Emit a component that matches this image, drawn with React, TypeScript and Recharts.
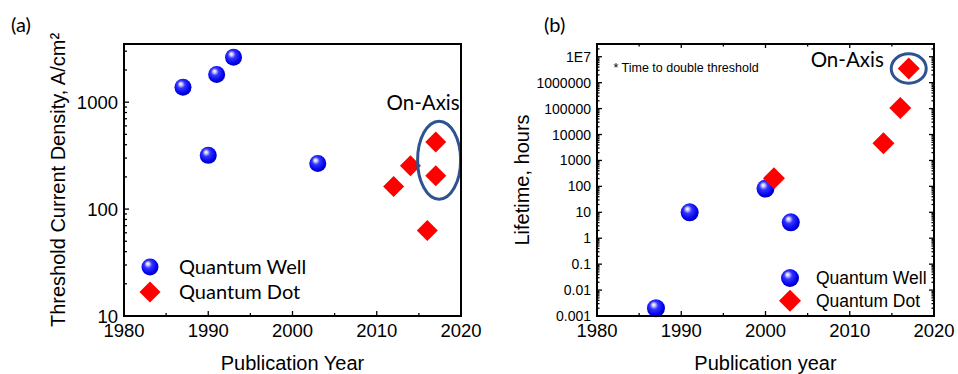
import React from "react";
import { Label, Legend, ReferenceDot, Scatter, ScatterChart, XAxis, YAxis } from "recharts";

// shared x axis
const YEAR_TICKS = [1980, 1990, 2000, 2010, 2020];
const YEAR_MINOR = [1985, 1995, 2005, 2015];
const YEAR_DOMAIN = [1980, 2020];

const SERIES = ["Quantum Well", "Quantum Dot"];

// (a) threshold current density, A/cm2
const A_Y_TICKS = [10, 100, 1000];
const A_Y_LABELS = ["10", "100", "1000"];
const A_Y_DOMAIN = [10, 3500];
const A_QW_YEAR = [1987, 1990, 1991, 1993, 2003];
const A_QW_JTH = [1380, 318, 1815, 2630, 267];
const A_QD_YEAR = [2012, 2014, 2016, 2017, 2017];
const A_QD_JTH = [163, 254, 63, 425, 205];
const A_RING = { x: 2017.4, y: 287 };
const A_NOTE = { x: 2015.5, y: 980 };

// (b) lifetime, hours
const B_Y_TICKS = [0.001, 0.01, 0.1, 1, 10, 100, 1000, 10000, 100000, 1000000, 10000000];
const B_Y_LABELS = ["0.001", "0.01", "0.1", "1", "10", "100", "1000", "10000", "100000", "1000000", "1E7"];
const B_Y_DOMAIN = [0.001, 31000000];
const B_QW_YEAR = [1987, 1991, 2000, 2003];
const B_QW_LIFE = [0.002, 10, 82, 4.1];
const B_QD_YEAR = [2001, 2014, 2016, 2017];
const B_QD_LIFE = [207, 4650, 105000, 3500000];
const B_RING = { x: 2017, y: 3500000 };
const B_NOTE = { x: 2009.7, y: 7600000 };
const B_FOOT = { x: 1981.95, y: 3900000 };

const ARIAL = "Liberation Sans, Arial, sans-serif";
const CALIBRI = "Lato, Open Sans, sans-serif";
const RING_COLOR = "#2f5290";
const DOT_RED = "#ff0000";

// layout: chart sizes and plot boxes (margins are derived from these)
const H = 374;
const X_AXIS_H = 58;
const BOX_A = { w: 480, left: 124, top: 44, right: 461, yAxisW: 84 };
const BOX_B = { w: 478, left: 117, top: 44, right: 454, yAxisW: 60 };
const PLOT_BOTTOM = H - X_AXIS_H;

const toPoints = (xs: number[], ys: number[]) => xs.map((x, i) => ({ x, y: ys[i] }));

function logMinors(majors: number[], max: number) {
  const out: number[] = [];
  majors.forEach((m) => {
    for (let k = 2; k <= 9; k++) {
      const v = +(m * k).toPrecision(6);
      if (v < max) out.push(v);
    }
  });
  return out;
}

const YEAR_ALL = [...YEAR_TICKS, ...YEAR_MINOR].sort((a, b) => a - b);
const A_Y_ALL = [...A_Y_TICKS, ...logMinors(A_Y_TICKS, A_Y_DOMAIN[1])].sort((a, b) => a - b);
const B_Y_ALL = [...B_Y_TICKS, ...logMinors(B_Y_TICKS, B_Y_DOMAIN[1])].sort((a, b) => a - b);

function Sphere({ cx, cy, r, id }: { cx: number; cy: number; r: number; id: string }) {
  return (
    <g>
      <defs>
        <radialGradient id={id} cx="0.45" cy="0.42" r="0.6" fx="0.36" fy="0.3">
          <stop offset="0" stopColor="#ffffff" />
          <stop offset="0.13" stopColor="#d4d4ff" />
          <stop offset="0.38" stopColor="#3434ff" />
          <stop offset="0.8" stopColor="#0000ee" />
          <stop offset="1" stopColor="#0000a4" />
        </radialGradient>
      </defs>
      <circle cx={cx} cy={cy} r={r} fill={`url(#${id})`} />
    </g>
  );
}

function Diamond({ cx, cy, h }: { cx: number; cy: number; h: number }) {
  return (
    <polygon
      points={`${cx},${cy - h} ${cx + h},${cy} ${cx},${cy + h} ${cx - h},${cy}`}
      fill={DOT_RED}
    />
  );
}

// ticks point inward, labels only on the major ones
function makeTick(side: "left" | "bottom", majors: number[], labels: string[], fontSize: number, majorLen: number, minorLen: number) {
  return (p: any) => {
    const v = p.payload.value;
    const i = majors.indexOf(v);
    const len = i >= 0 ? majorLen : minorLen;
    const { x, y } = p;
    const left = side === "left";
    return (
      <g>
        {left ? (
          <line x1={x} x2={x + len} y1={y} y2={y} stroke="#000" strokeWidth={1.3} />
        ) : (
          <line x1={x} x2={x} y1={y} y2={y - len} stroke="#000" strokeWidth={1.3} />
        )}
        {i >= 0 && (
          <text
            x={left ? x - 6 : x}
            y={left ? y : y + 21}
            dy={left ? "0.36em" : 0}
            textAnchor={left ? "end" : "middle"}
            fill="#000"
            fontFamily={ARIAL}
            fontSize={fontSize}
          >
            {labels[i]}
          </text>
        )}
      </g>
    );
  };
}

const AXIS_LINE = { stroke: "#000", strokeWidth: 2 };
const YEAR_LABELS = YEAR_TICKS.map(String);

// box frame drawn over the plot, with optional mirrored ticks (top / right)
function Frame({ box, yDomain, mirror }: { box: typeof BOX_A; yDomain: number[]; mirror: boolean }) {
  const w = box.right - box.left;
  const h = PLOT_BOTTOM - box.top;
  const lo = Math.log10(yDomain[0]);
  const hi = Math.log10(yDomain[1]);
  const xAt = (v: number) => box.left + ((v - YEAR_DOMAIN[0]) / (YEAR_DOMAIN[1] - YEAR_DOMAIN[0])) * w;
  const yAt = (v: number) => PLOT_BOTTOM - ((Math.log10(v) - lo) / (hi - lo)) * h;
  return (
    <svg width={box.w} height={H} style={{ position: "absolute", left: 0, top: 0, pointerEvents: "none", overflow: "visible" }}>
      <rect x={box.left} y={box.top} width={w} height={h} fill="none" stroke="#000" strokeWidth={2} />
      {mirror && (
        <g stroke="#000" strokeWidth={1.3}>
          {YEAR_ALL.map((v) => (
            <line key={`t${v}`} x1={xAt(v)} x2={xAt(v)} y1={box.top} y2={box.top + (YEAR_TICKS.includes(v) ? 4 : 2.5)} />
          ))}
          {B_Y_ALL.map((v) => (
            <line key={`r${v}`} x1={box.right} x2={box.right - (B_Y_TICKS.includes(v) ? 5 : 2.5)} y1={yAt(v)} y2={yAt(v)} />
          ))}
        </g>
      )}
    </svg>
  );
}

function LegendA() {
  return (
    <svg width={200} height={60} style={{ display: "block", overflow: "visible" }}>
      <Sphere cx={11} cy={12} r={8.5} id="legA" />
      <Diamond cx={11} cy={37} h={10.5} />
      <g fontFamily={CALIBRI} fontSize={20} fill="#000">
        <text x={40} y={12} dy="0.36em">{SERIES[0]}</text>
        <text x={40} y={37} dy="0.36em">{SERIES[1]}</text>
      </g>
    </svg>
  );
}

function LegendB() {
  return (
    <svg width={170} height={50} style={{ display: "block", overflow: "visible" }}>
      <Sphere cx={11} cy={11} r={9} id="legB" />
      <Diamond cx={11} cy={33.7} h={11} />
      <g fontFamily={ARIAL} fontSize={17.5} fill="#000">
        <text x={37} y={11} dy="0.36em">{SERIES[0]}</text>
        <text x={37} y={33.7} dy="0.36em">{SERIES[1]}</text>
      </g>
    </svg>
  );
}

function xTitle(text: string) {
  return (props: any) => {
    const vb = props.viewBox;
    return (
      <text x={vb.x + vb.width / 2} y={vb.y + vb.height - 4} textAnchor="middle" fontFamily={ARIAL} fontSize={20} fill="#000">
        {text}
      </text>
    );
  };
}

function yTitle(text: string, dx: number) {
  return (props: any) => {
    const vb = props.viewBox;
    const cx = vb.x + dx;
    const cy = vb.y + vb.height / 2;
    return (
      <text
        x={cx}
        y={cy}
        dy="0.36em"
        textAnchor="middle"
        fontFamily={ARIAL}
        fontSize={20}
        fill="#000"
        transform={`rotate(-90, ${cx}, ${cy})`}
      >
        {text}
      </text>
    );
  };
}

const marginOf = (b: typeof BOX_A) => ({ top: b.top, right: b.w - b.right, bottom: 0, left: b.left - b.yAxisW });

function PanelA() {
  return (
    <ScatterChart width={BOX_A.w} height={H} margin={marginOf(BOX_A)}>
      <XAxis
        dataKey="x"
        type="number"
        domain={YEAR_DOMAIN}
        ticks={YEAR_ALL}
        interval={0}
        height={X_AXIS_H}
        tickSize={0}
        tickMargin={0}
        tickLine={false}
        axisLine={AXIS_LINE}
        tick={makeTick("bottom", YEAR_TICKS, YEAR_LABELS, 18.5, 5, 3)}
      >
        <Label content={xTitle("Publication Year")} />
      </XAxis>
      <YAxis
        dataKey="y"
        type="number"
        scale="log"
        domain={A_Y_DOMAIN}
        ticks={A_Y_ALL}
        interval={0}
        width={BOX_A.yAxisW}
        tickSize={0}
        tickMargin={0}
        tickLine={false}
        axisLine={AXIS_LINE}
        tick={makeTick("left", A_Y_TICKS, A_Y_LABELS, 18.5, 5, 3)}
      >
        <Label content={yTitle("Threshold Current Density, A/cm²", 18)} />
      </YAxis>
      <Scatter
        name={SERIES[0]}
        data={toPoints(A_QW_YEAR, A_QW_JTH)}
        isAnimationActive={false}
        shape={(p: any) => <Sphere cx={p.cx} cy={p.cy} r={8.5} id={`qa${Math.round(p.cx)}_${Math.round(p.cy)}`} />}
      />
      <Scatter
        name={SERIES[1]}
        data={toPoints(A_QD_YEAR, A_QD_JTH)}
        isAnimationActive={false}
        shape={(p: any) => <Diamond cx={p.cx} cy={p.cy} h={10.5} />}
      />
      <ReferenceDot
        x={A_RING.x}
        y={A_RING.y}
        ifOverflow="visible"
        shape={(p: any) => <ellipse cx={p.cx} cy={p.cy} rx={21.5} ry={39} fill="none" stroke={RING_COLOR} strokeWidth={3} />}
      />
      <ReferenceDot
        x={A_NOTE.x}
        y={A_NOTE.y}
        ifOverflow="visible"
        shape={(p: any) => (
          <text x={p.cx} y={p.cy} dy="0.36em" textAnchor="middle" fontFamily={CALIBRI} fontSize={20.5} fill="#000">
            On-Axis
          </text>
        )}
      />
      <Legend
        layout="vertical"
        verticalAlign="middle"
        align="center"
        wrapperStyle={{ left: 139, top: 255, width: 200, height: 60 }}
        content={() => <LegendA />}
      />
    </ScatterChart>
  );
}

function PanelB() {
  return (
    <ScatterChart width={BOX_B.w} height={H} margin={marginOf(BOX_B)}>
      <XAxis
        dataKey="x"
        type="number"
        domain={YEAR_DOMAIN}
        ticks={YEAR_ALL}
        interval={0}
        height={X_AXIS_H}
        tickSize={0}
        tickMargin={0}
        tickLine={false}
        axisLine={AXIS_LINE}
        tick={makeTick("bottom", YEAR_TICKS, YEAR_LABELS, 18.5, 5, 3)}
      >
        <Label content={xTitle("Publication year")} />
      </XAxis>
      <YAxis
        dataKey="y"
        type="number"
        scale="log"
        domain={B_Y_DOMAIN}
        ticks={B_Y_ALL}
        interval={0}
        width={BOX_B.yAxisW}
        tickSize={0}
        tickMargin={0}
        tickLine={false}
        axisLine={AXIS_LINE}
        tick={makeTick("left", B_Y_TICKS, B_Y_LABELS, 14, 5, 2.5)}
      >
        <Label content={yTitle("Lifetime, hours", -15)} />
      </YAxis>
      <Scatter
        name={SERIES[0]}
        data={toPoints(B_QW_YEAR, B_QW_LIFE)}
        isAnimationActive={false}
        shape={(p: any) => <Sphere cx={p.cx} cy={p.cy} r={9} id={`qb${Math.round(p.cx)}_${Math.round(p.cy)}`} />}
      />
      <Scatter
        name={SERIES[1]}
        data={toPoints(B_QD_YEAR, B_QD_LIFE)}
        isAnimationActive={false}
        shape={(p: any) => <Diamond cx={p.cx} cy={p.cy} h={11} />}
      />
      <ReferenceDot
        x={B_RING.x}
        y={B_RING.y}
        ifOverflow="visible"
        shape={(p: any) => <ellipse cx={p.cx} cy={p.cy} rx={17.5} ry={14.7} fill="none" stroke={RING_COLOR} strokeWidth={3} />}
      />
      <ReferenceDot
        x={B_NOTE.x}
        y={B_NOTE.y}
        ifOverflow="visible"
        shape={(p: any) => (
          <text x={p.cx} y={p.cy} dy="0.36em" textAnchor="middle" fontFamily={CALIBRI} fontSize={20.5} fill="#000">
            On-Axis
          </text>
        )}
      />
      <ReferenceDot
        x={B_FOOT.x}
        y={B_FOOT.y}
        ifOverflow="visible"
        shape={(p: any) => (
          <text x={p.cx} y={p.cy} dy="0.36em" fontFamily={ARIAL} fontSize={12.5} fill="#000">
            * Time to double threshold
          </text>
        )}
      />
      <Legend
        layout="vertical"
        verticalAlign="middle"
        align="center"
        wrapperStyle={{ left: 299, top: 267, width: 170, height: 50 }}
        content={() => <LegendB />}
      />
    </ScatterChart>
  );
}

const panelLabel: React.CSSProperties = {
  position: "absolute",
  top: 13,
  fontFamily: CALIBRI,
  fontSize: 20,
  lineHeight: "22px",
  color: "#000",
};

export default function App() {
  return (
    <div style={{ position: "absolute", left: 0, top: 0, width: 958, height: 374, background: "#fff" }}>
      <style>{`.recharts-surface { overflow: visible; }`}</style>
      <div style={{ position: "absolute", left: 0, top: 0, width: BOX_A.w, height: H }}>
        <PanelA />
        <Frame box={BOX_A} yDomain={A_Y_DOMAIN} mirror={false} />
      </div>
      <div style={{ position: "absolute", left: 480, top: 0, width: BOX_B.w, height: H }}>
        <PanelB />
        <Frame box={BOX_B} yDomain={B_Y_DOMAIN} mirror={true} />
      </div>
      <div style={{ ...panelLabel, left: 11 }}>(a)</div>
      <div style={{ ...panelLabel, left: 544 }}>(b)</div>
    </div>
  );
}
